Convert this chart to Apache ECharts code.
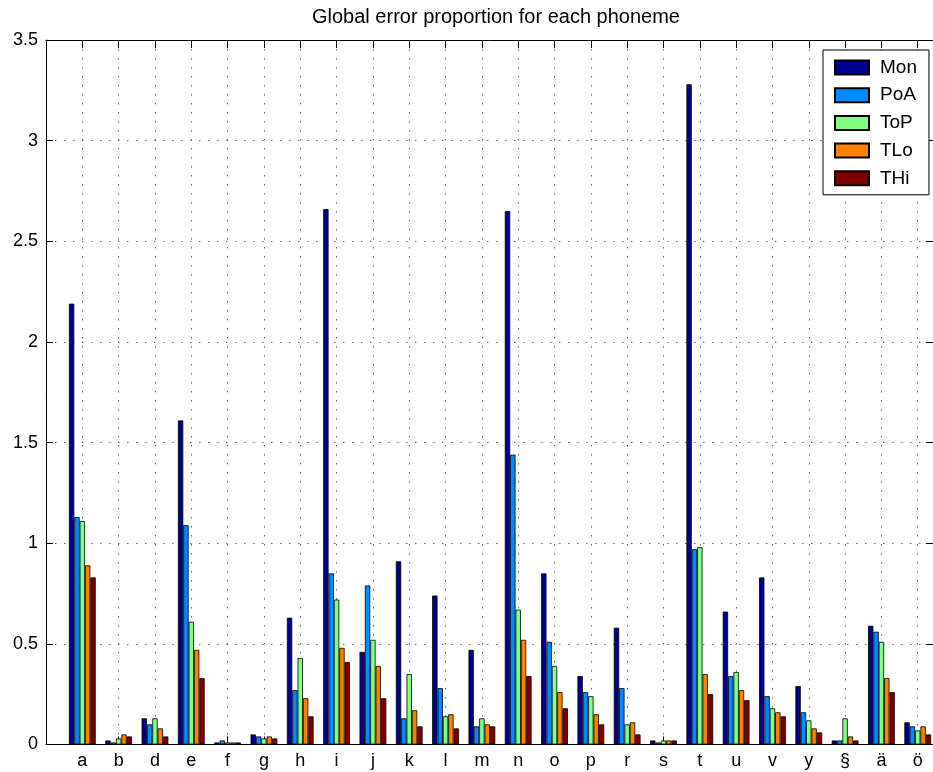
<!DOCTYPE html>
<html><head><meta charset="utf-8">
<script src="https://cdn.jsdelivr.net/npm/echarts@6/dist/echarts.min.js"></script>
<style>html,body{margin:0;padding:0;background:#fff}#c{width:933px;height:772px}</style>
</head><body><div id="c"></div>
<script>
const categories = ['a','b','d','e','f','g','h','i','j','k','l','m','n','o','p','r','s','t','u','v','y','§','ä','ö'];
const seriesNames = ['Mon','PoA','ToP','TLo','THi'];
const Mon = [2.19,0.02,0.13,1.61,0.01,0.05,0.63,2.66,0.46,0.91,0.74,0.47,2.65,0.85,0.34,0.58,0.02,3.28,0.66,0.83,0.29,0.02,0.59,0.11];
const PoA = [1.13,0.01,0.10,1.09,0.02,0.04,0.27,0.85,0.79,0.13,0.28,0.09,1.44,0.51,0.26,0.28,0.01,0.97,0.34,0.24,0.16,0.02,0.56,0.09];
const ToP = [1.11,0.03,0.13,0.61,0.01,0.03,0.43,0.72,0.52,0.35,0.14,0.13,0.67,0.39,0.24,0.10,0.02,0.98,0.36,0.18,0.12,0.13,0.51,0.07];
const TLo = [0.89,0.05,0.08,0.47,0.01,0.04,0.23,0.48,0.39,0.17,0.15,0.10,0.52,0.26,0.15,0.11,0.02,0.35,0.27,0.16,0.08,0.04,0.33,0.09];
const THi = [0.83,0.04,0.04,0.33,0.01,0.03,0.14,0.41,0.23,0.09,0.08,0.09,0.34,0.18,0.10,0.05,0.02,0.25,0.22,0.14,0.06,0.02,0.26,0.05];
const seriesValues = [Mon, PoA, ToP, TLo, THi];
const colors = ['#00008F','#008CFF','#80FF80','#FF8000','#800000'];
const yMin = 0, yMax = 3.5, yStep = 0.5;

const FONT = '"Liberation Sans", Arial, Helvetica, sans-serif';
const chart = echarts.init(document.getElementById('c'), null, {renderer: 'canvas'});
const labelFor = v => {
  const r = Math.round(v);
  if (Math.abs(v - r) > 1e-6 || r < 1 || r > categories.length) return '';
  return categories[r - 1];
};
const dotted = {color: '#666', width: 1, type: [1.5, 7.5]};
chart.setOption({
  animation: false,
  backgroundColor: '#fff',
  textStyle: {fontFamily: FONT},
  title: {
    text: 'Global error proportion for each phoneme',
    left: 312, top: 7, padding: 0,
    textStyle: {fontFamily: FONT, fontSize: 20, fontWeight: 'normal', color: '#000'}
  },
  legend: {
    orient: 'vertical', left: 823, top: 50,
    padding: [8, 12, 7, 11],
    itemWidth: 34, itemHeight: 14, itemGap: 8.7,
    backgroundColor: '#fff', borderColor: '#000', borderWidth: 1,
    icon: 'rect',
    textStyle: {fontFamily: FONT, fontSize: 19, color: '#000', lineHeight: 14, padding: [0, 0, 0, 6]},
    data: seriesNames
  },
  grid: {left: 46, right: -3, top: 40, bottom: 27.5, containLabel: false},
  xAxis: [{
    type: 'value', min: 0, max: 24.42, interval: 1, position: 'bottom',
    axisLine: {show: true, lineStyle: {color: '#000', width: 1}},
    axisTick: {show: true, inside: true, length: 8, lineStyle: {color: '#000'}},
    axisLabel: {formatter: labelFor, fontFamily: FONT, fontSize: 18, color: '#000', margin: 8, showMaxLabel: false},
    splitLine: {show: true, lineStyle: dotted}
  }, {
    type: 'value', min: 0, max: 24.42, interval: 1, position: 'top',
    axisLine: {show: true, onZero: false, lineStyle: {color: '#000', width: 1}},
    axisTick: {show: true, inside: true, length: 8, lineStyle: {color: '#000'}},
    axisLabel: {show: false}, splitLine: {show: false}
  }],
  yAxis: [{
    type: 'value', min: yMin, max: yMax, interval: yStep, position: 'left',
    axisLine: {show: true, onZero: false, lineStyle: {color: '#000', width: 1}},
    axisTick: {show: true, inside: true, length: 7, lineStyle: {color: '#000'}},
    axisLabel: {fontFamily: FONT, fontSize: 18, color: '#000', margin: 8},
    splitLine: {show: true, lineStyle: dotted}
  }, {
    type: 'value', min: yMin, max: yMax, interval: yStep, position: 'right',
    axisLine: {show: true, onZero: false, lineStyle: {color: '#000', width: 1}},
    axisTick: {show: true, inside: true, length: 7, lineStyle: {color: '#000'}},
    axisLabel: {show: false}, splitLine: {show: false}
  }],
  series: seriesNames.map((name, si) => ({
    name, type: 'bar', xAxisIndex: 0, yAxisIndex: 0,
    barWidth: 5.35, barGap: '0%',
    itemStyle: {color: colors[si], borderColor: '#000', borderWidth: 0.8},
    data: categories.map((c, i) => [i + 1, seriesValues[si][i]])
  }))
});
</script></body></html>
